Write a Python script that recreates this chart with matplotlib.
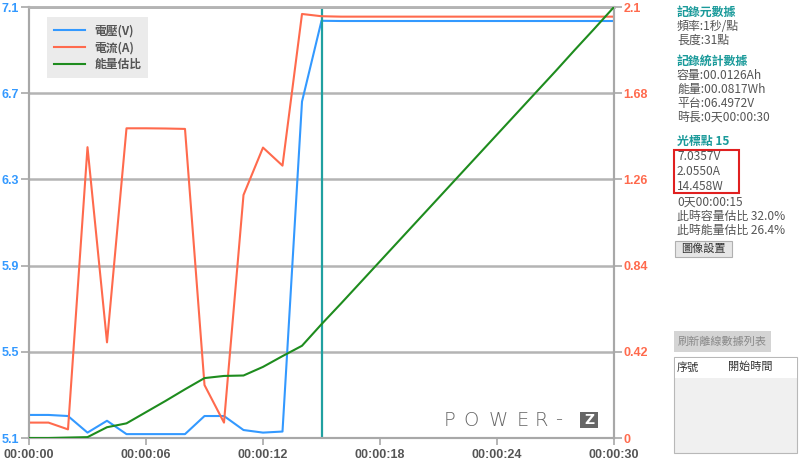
import numpy as np
import matplotlib
matplotlib.use("Agg")
import matplotlib.pyplot as plt
from matplotlib.patches import Rectangle
from matplotlib.ticker import FuncFormatter

plt.rcParams['font.family'] = ['Noto Sans CJK TC', 'DejaVu Sans']

# data (1 point per second, 31 points)
seconds = list(range(31))
voltage = [5.207, 5.207, 5.202, 5.125, 5.180, 5.118, 5.118, 5.118, 5.118, 5.202,
           5.202, 5.137, 5.125, 5.130, 6.661, 7.036, 7.035, 7.035, 7.035, 7.035,
           7.035, 7.035, 7.035, 7.035, 7.035, 7.035, 7.035, 7.035, 7.035, 7.035, 7.035]
current = [0.075, 0.075, 0.042, 1.417, 0.466, 1.509, 1.509, 1.508, 1.506, 0.258,
           0.075, 1.184, 1.415, 1.327, 2.066, 2.055, 2.053, 2.053, 2.053, 2.053,
           2.053, 2.053, 2.053, 2.053, 2.053, 2.053, 2.053, 2.053, 2.053, 2.053, 2.053]
energy_pct = [0.0, 0.0, 0.1, 0.2, 2.5, 3.4, 6.0, 8.6, 11.3, 13.9,
              14.4, 14.5, 16.5, 19.0, 21.4, 26.4, 31.2, 36.1, 41.0, 45.9,
              50.8, 55.7, 60.6, 65.5, 70.4, 75.3, 80.2, 85.1, 90.1, 95.0, 100.0]
cursor_t = 15

v_ticks = [5.1, 5.5, 5.9, 6.3, 6.7, 7.1]
a_ticks = [0, 0.42, 0.84, 1.26, 1.68, 2.1]
a_labels = ["0", "0.42", "0.84", "1.26", "1.68", "2.1"]
legend_labels = ["電壓(V)", "電流(A)", "能量估比"]

info_lines = [
    ("記錄元數據", "#1a9a9a", 12.7),
    ("頻率:1秒/點", "#555555", 26.7),
    ("長度:31點", "#555555", 40.7),
    ("記錄統計數據", "#1a9a9a", 61),
    ("容量:00.0126Ah", "#555555", 75),
    ("能量:00.0817Wh", "#555555", 89.3),
    ("平台:06.4972V", "#555555", 103.3),
    ("時長:0天00:00:30", "#555555", 117.3),
    ("光標點 15", "#1a9a9a", 141.7),
    ("7.0357V", "#555555", 156),
    ("2.0550A", "#555555", 171),
    ("14.458W", "#555555", 186),
    ("0天00:00:15", "#555555", 201.7),
    ("此時容量估比 32.0%", "#555555", 216),
    ("此時能量估比 26.4%", "#555555", 230.7),
]

blue = "#3399ff"
red = "#ff6a4d"
green = "#1e8c1e"
teal = "#20a0a0"
gridc = "#b4b4b4"

W, H = 800, 461
fig = plt.figure(figsize=(8, 4.61), dpi=100)
fig.patch.set_facecolor("white")

def fx(x):
    return x / W

def fy(y):
    return 1 - y / H

ax = fig.add_axes([fx(29), fy(438), fx(614) - fx(29), fy(7) - fy(438)])
ax2 = ax.twinx()
ax3 = ax.twinx()

l1, = ax.plot(seconds, voltage, color=blue, lw=1.5)
l2, = ax2.plot(seconds, current, color=red, lw=1.5)
l3, = ax3.plot(seconds, energy_pct, color=green, lw=1.5)
ax.axvline(cursor_t, color=teal, lw=1.6)

ax.set_xlim(0, 30)
ax.set_ylim(5.1, 7.1)
ax2.set_ylim(0, 2.1)
ax3.set_ylim(0, 100)
ax3.axis("off")

ax.set_yticks(v_ticks)
ax.set_yticklabels([str(v) for v in v_ticks])
ax2.set_yticks(a_ticks)
ax2.set_yticklabels(a_labels)
ax.set_xticks([0, 6, 12, 18, 24, 30])
ax.xaxis.set_major_formatter(FuncFormatter(lambda s, p: "00:00:%02d" % int(s)))

ax.grid(axis="y", color=gridc, lw=1.8)
ax.set_axisbelow(True)

for a in (ax, ax2):
    for side in ["left", "right", "bottom", "top"]:
        a.spines[side].set_color("#a8a8a8")
        a.spines[side].set_linewidth(1.5)
    a.spines["top"].set_color(gridc)
    a.spines["top"].set_linewidth(1.8)

ax.tick_params(axis="y", colors="#a8a8a8", labelcolor=blue, length=5.5, width=1.2, labelsize=9, pad=1.5)
ax2.tick_params(axis="y", colors="#a8a8a8", labelcolor=red, length=5.5, width=1.2, labelsize=9, pad=1.5)
ax.tick_params(axis="x", colors="#a8a8a8", labelcolor="#555555", length=5, width=1.2, labelsize=9, pad=3)
for lab in ax.get_yticklabels() + ax2.get_yticklabels() + ax.get_xticklabels():
    lab.set_fontweight("bold")
    lab.set_family(["Liberation Sans"])

leg = ax.legend([l1, l2, l3], legend_labels, loc="upper left",
                bbox_to_anchor=((47 - 29) / 585, 1 - (17 - 7) / 431),
                fontsize=8.5, frameon=True, fancybox=False, handlelength=2.6,
                borderpad=0.6, labelspacing=0.35, borderaxespad=0)
leg.get_frame().set_facecolor("#ebebeb")
leg.get_frame().set_edgecolor("none")
leg.get_frame().set_alpha(1)
for t in leg.get_texts():
    t.set_color("#555555")
    t.set_fontweight("bold")

# POWER-Z logo, letters placed one by one to match the wide logo type
logo_letters = [("P", 449.5), ("O", 471), ("W", 498.5), ("E", 522.5), ("R", 541.5), ("-", 559)]
for ch, cx in logo_letters:
    fig.text(fx(cx), fy(420), ch, fontsize=14, color="#666666", family=["DejaVu Sans"],
             fontweight="light", va="center", ha="center")
fig.patches.append(Rectangle((fx(580), fy(427.5)), fx(18), 15.5 / H, transform=fig.transFigure,
                             facecolor="#666666", edgecolor="none"))
fig.text(fx(589), fy(419.8), "Z", fontsize=10, color="white", family=["DejaVu Sans"],
         fontweight="bold", va="center", ha="center")

# right-hand info panel
for txt, col, y in info_lines:
    fig.text(fx(677), fy(y), txt, fontsize=8.6, color=col, va="center", ha="left",
             fontweight="bold" if col != "#555555" else "normal")

fig.patches.append(Rectangle((fx(674), fy(193)), fx(65), 43 / H, transform=fig.transFigure,
                             facecolor="none", edgecolor="#e02020", lw=1.5))

# button
fig.patches.append(Rectangle((fx(675), fy(257)), fx(57), 16 / H, transform=fig.transFigure,
                             facecolor="#e6e6e6", edgecolor="#b0b0b0", lw=0.8))
fig.text(fx(703.5), fy(248.5), "圖像設置", fontsize=8, color="#333333", va="center", ha="center")

fig.patches.append(Rectangle((fx(674), fy(352)), fx(97), 21 / H, transform=fig.transFigure,
                             facecolor="#d4d4d4", edgecolor="none"))
fig.text(fx(722.5), fy(341.5), "刷新離線數據列表", fontsize=8, color="#8a8a8a", va="center", ha="center")

# table
fig.patches.append(Rectangle((fx(674), fy(453)), fx(123), 96 / H, transform=fig.transFigure,
                             facecolor="#f0f0f0", edgecolor="#b8b8b8", lw=0.8))
fig.patches.append(Rectangle((fx(674.5), fy(378)), fx(122), 20.5 / H, transform=fig.transFigure,
                             facecolor="white", edgecolor="none"))
fig.text(fx(688), fy(367), "序號", fontsize=8, color="#333333", va="center", ha="center")
fig.text(fx(750), fy(367), "開始時間", fontsize=8, color="#333333", va="center", ha="center")

fig.savefig("out.png", dpi=100)
